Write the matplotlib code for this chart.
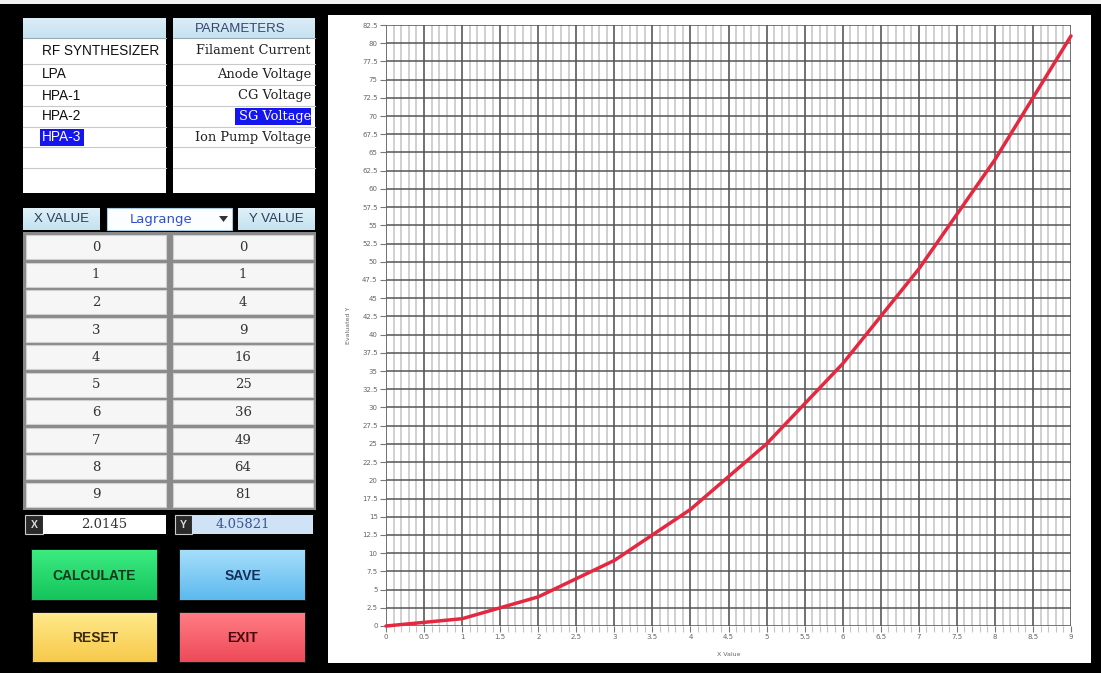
import numpy as np
import matplotlib
matplotlib.use("Agg")
import matplotlib.pyplot as plt
from matplotlib.patches import Rectangle, Polygon
from matplotlib.ticker import MultipleLocator, FuncFormatter

# ---------------- data ----------------
devices = ["RF SYNTHESIZER", "LPA", "HPA-1", "HPA-2", "HPA-3"]
selected_device = "HPA-3"
parameters = ["Filament Current", "Anode Voltage", "CG Voltage", "SG Voltage", "Ion Pump Voltage"]
selected_parameter = "SG Voltage"
method = "Lagrange"
x_values = [0, 1, 2, 3, 4, 5, 6, 7, 8, 9]
y_values = [0, 1, 4, 9, 16, 25, 36, 49, 64, 81]
eval_x = "2.0145"
eval_y = "4.05821"
buttons = ["CALCULATE", "SAVE", "RESET", "EXIT"]
x_label = "X Value"
y_label = "Evaluated Y"

W, H = 1101, 673
fig = plt.figure(figsize=(W / 100, H / 100), dpi=100, facecolor="black")
ui = fig.add_axes([0, 0, 1, 1])
ui.set_xlim(0, W)
ui.set_ylim(H, 0)
ui.axis("off")
ui.set_facecolor("black")

SANS = "Liberation Sans"
SERIF = "DejaVu Serif"


def rect(x0, y0, x1, y1, fc, ec="none", lw=0, z=1):
    ui.add_patch(Rectangle((x0, y0), x1 - x0, y1 - y0, fc=fc, ec=ec, lw=lw, zorder=z))


def grad_rect(x0, y0, x1, y1, top, bottom, z=2):
    c0 = np.array(matplotlib.colors.to_rgb(top))
    c1 = np.array(matplotlib.colors.to_rgb(bottom))
    t = np.linspace(0, 1, 64)[:, None]
    img = (c0 * (1 - t) + c1 * t)[:, None, :]
    ui.imshow(img, extent=(x0, x1, y1, y0), aspect="auto", zorder=z, interpolation="bilinear")


# top white strip
rect(0, 0, W, 4, "#f2f2f2")

# ---------------- device / parameter tables ----------------
row_lines = [64, 85, 106, 127, 147, 168]
row_centers = [51, 74.5, 95.5, 116.5, 137]
for (x0, x1) in [(23, 166), (173, 315)]:
    rect(x0, 18, x1, 193, "white", z=2)
    grad_rect(x0, 18, x1, 38, "#dcedf7", "#c6e2f1", z=3)
    ui.plot([x0, x1], [38, 38], color="#9aa8b0", lw=0.8, zorder=4)
    for yl in row_lines:
        ui.plot([x0, x1], [yl, yl], color="#c9c9c9", lw=0.8, zorder=4)

ui.text(240, 28.5, "PARAMETERS", ha="center", va="center", fontsize=9.5, family=SANS,
        color="#34476a", zorder=5)

for name, yc in zip(devices, row_centers):
    col = "#111111"
    if name == selected_device:
        rect(40, yc - 8.5, 84, yc + 8.5, "#1515f0", z=4)
        col = "white"
    ui.text(42, yc, name, ha="left", va="center", fontsize=9.8, family=SANS, color=col, zorder=5)

for name, yc in zip(parameters, row_centers):
    col = "#222222"
    if name == selected_parameter:
        rect(235, yc - 9, 311, yc + 8, "#1515f0", z=4)
        col = "white"
    ui.text(311, yc, name, ha="right", va="center", fontsize=9.4, family=SERIF, color=col, zorder=5)

# ---------------- header of value grid ----------------
grad_rect(23, 208, 100, 230, "#dff0f8", "#c3e2f1")
ui.text(61.5, 219, "X VALUE", ha="center", va="center", fontsize=9.5, family=SANS, color="#2c3c58", zorder=5)
rect(107, 208, 232, 230, "#fbfdff", ec="#a9c8e0", lw=0.8, z=2)
ui.text(161, 219, method, ha="center", va="center", fontsize=9.5, family="DejaVu Sans",
        color="#2f4fd0", zorder=5)
ui.add_patch(Polygon([[219, 216], [228, 216], [223.5, 222]], closed=True, fc="#333333", ec="none", zorder=5))
grad_rect(238, 208, 315, 230, "#dff0f8", "#c3e2f1")
ui.text(276.5, 219, "Y VALUE", ha="center", va="center", fontsize=9.5, family=SANS, color="#2c3c58", zorder=5)

# ---------------- value grid ----------------
rect(23, 232, 316, 510, "#8a8a8a", z=2)
pitch = 27.5
for i, (xv, yv) in enumerate(zip(x_values, y_values)):
    y0 = 235 + pitch * i
    for (cx0, cx1, val) in [(26, 166, xv), (173, 313, yv)]:
        rect(cx0, y0, cx1, y0 + 24, "#f6f6f6", ec="#d0d0d0", lw=0.8, z=3)
        ui.text((cx0 + cx1) / 2, y0 + 12.5, str(val), ha="center", va="center", fontsize=9.5,
                family=SERIF, color="#333333", zorder=5)

# ---------------- evaluated point row ----------------
rect(25, 515, 43, 534, "#2a2a2a", ec="#cccccc", lw=0.8, z=3)
ui.text(34, 524.5, "X", ha="center", va="center", fontsize=7.5, family=SANS, weight="bold",
        color="#dddddd", zorder=5)
rect(43, 515, 166, 534, "white", z=3)
ui.text(104, 524.5, eval_x, ha="center", va="center", fontsize=9.5, family=SERIF, color="#333333", zorder=5)
rect(175, 515, 192, 534, "#2a2a2a", ec="#cccccc", lw=0.8, z=3)
ui.text(183.5, 524.5, "Y", ha="center", va="center", fontsize=7.5, family=SANS, weight="bold",
        color="#dddddd", zorder=5)
rect(192, 515, 313, 534, "#cfe2f6", z=3)
ui.text(243, 524.5, eval_y, ha="center", va="center", fontsize=9.5, family=SERIF, color="#3a5590", zorder=5)

# ---------------- buttons ----------------
btn_specs = [
    (32, 550, 157, 600, "#3ceb80", "#14c45c", "#0d3a1c"),
    (180, 550, 305, 600, "#a6defb", "#5cb9ee", "#14305a"),
    (33, 613, 157, 662, "#ffe98a", "#f7c94a", "#3a2a08"),
    (180, 613, 305, 662, "#ff7c84", "#ee4a58", "#4a0a10"),
]
for label, (x0, y0, x1, y1, top, bot, tc) in zip(buttons, btn_specs):
    rect(x0 - 1, y0 - 1, x1 + 1, y1 + 1, "#1a1a1a", z=2)
    grad_rect(x0, y0, x1, y1, top, bot, z=3)
    ui.text((x0 + x1) / 2, (y0 + y1) / 2 + 1, label, ha="center", va="center", fontsize=10,
            family=SANS, weight="bold", color=tc, zorder=5)

# ---------------- chart panel ----------------
rect(328, 15, 1091, 663, "white", z=2)

L, R, T, B = 386, 1071, 25, 626
ax = fig.add_axes([L / W, (H - B) / H, (R - L) / W, (B - T) / H])
ax.set_zorder(10)
ax.set_facecolor("white")
ax.plot(x_values, y_values, color="#e42840", lw=2.5, solid_capstyle="round",
        solid_joinstyle="round", zorder=5, clip_on=False)
ax.set_xlim(0, 9)
ax.set_ylim(0, 82.5)
ax.xaxis.set_major_locator(MultipleLocator(0.5))
ax.xaxis.set_minor_locator(MultipleLocator(0.1))
ax.yaxis.set_major_locator(MultipleLocator(2.5))
fmt = FuncFormatter(lambda v, p: f"{v:g}")
ax.xaxis.set_major_formatter(fmt)
ax.yaxis.set_major_formatter(fmt)
ax.grid(which="major", axis="x", color="#4a4a4a", lw=1.1)
ax.grid(which="minor", axis="x", color="#c4c4c4", lw=1.1)
ax.grid(which="major", axis="y", color="#555555", lw=1.1)
ax.set_axisbelow(True)
for s in ax.spines.values():
    s.set_visible(False)
ax.tick_params(axis="both", which="major", labelsize=5, labelcolor="#666666", color="#777777",
               length=4, width=0.8, pad=2)
ax.tick_params(axis="x", which="minor", color="#c4c4c4", length=4, width=0.8)
ax.set_xlabel(x_label, fontsize=4.5, color="#666666")
ax.set_ylabel(y_label, fontsize=4.5, color="#666666")
ax.xaxis.set_label_coords(0.5, -(652 - B) / (B - T))
ax.yaxis.set_label_coords(-(L - 351) / (R - L), 0.5)

fig.savefig("out.png", dpi=100, facecolor="black")
